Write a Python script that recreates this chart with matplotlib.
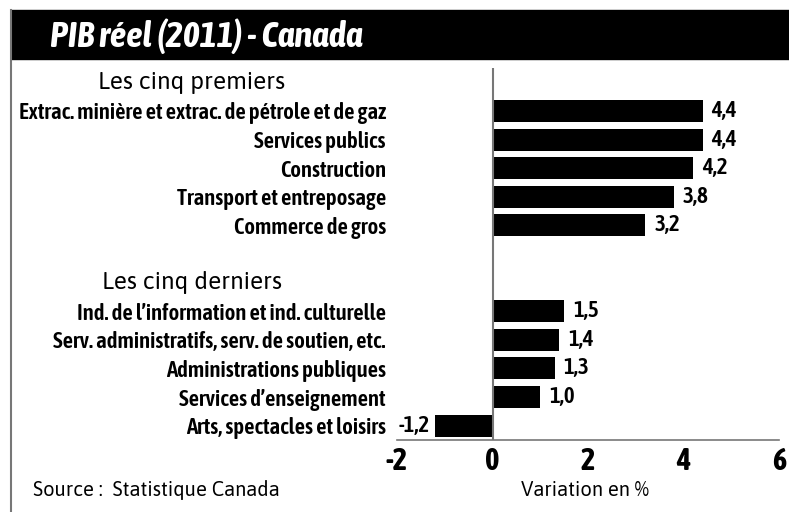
import matplotlib.pyplot as plt
from matplotlib.patches import Rectangle
from matplotlib.lines import Line2D
from matplotlib.transforms import blended_transform_factory

plt.rcParams['font.family'] = ['Asap Condensed', 'DejaVu Sans']
WIDE = ['Asap', 'DejaVu Sans']

title = "PIB réel (2011) - Canada"
headers = ["Les cinq premiers", "Les cinq derniers"]
top_labels = ["Extrac. minière et extrac. de pétrole et de gaz", "Services publics",
              "Construction", "Transport et entreposage", "Commerce de gros"]
top_values = [4.4, 4.4, 4.2, 3.8, 3.2]
bottom_labels = ["Ind. de l\u2019information et ind. culturelle",
                 "Serv. administratifs, serv. de soutien, etc.",
                 "Administrations publiques", "Services d\u2019enseignement",
                 "Arts, spectacles et loisirs"]
bottom_values = [1.5, 1.4, 1.3, 1.0, -1.2]
xticks = [-2, 0, 2, 4, 6]

# slot 0 = first header, 1-5 top bars, 6 blank, 7 = second header, 8-12 bottom bars
top_pos = [1, 2, 3, 4, 5]
bottom_pos = [8, 9, 10, 11, 12]
header_pos = [0, 7]

labels = top_labels + bottom_labels
values = top_values + bottom_values
pos = top_pos + bottom_pos

fig = plt.figure(figsize=(7.89, 5.12), dpi=100)
W, H = 789, 512

# title band + left frame line
fig.patches.append(Rectangle((11 / W, 1 - 59 / H), 1 - 11 / W, 49 / H,
                             transform=fig.transFigure, color='black', zorder=0))
fig.lines.append(Line2D([11 / W, 11 / W], [0, 1 - 10 / H], transform=fig.transFigure,
                        color='#777777', lw=1.5))
fig.text(50 / W, 1 - 36 / H, title, color='white', fontsize=26, fontweight='bold',
         fontstyle='italic', va='center', ha='left')

ax = fig.add_axes([397 / W, 1 - 440 / H, 382 / W, 372 / H])
ax.barh(pos, values, height=0.77, color='black', zorder=3)
ax.axvline(0, color='#777777', lw=1.5, zorder=4)
ax.set_xlim(-2, 6)
ax.set_ylim(12.5, -0.5)

ax.set_yticks(pos)
ax.set_yticklabels(labels, fontsize=16.4, fontweight=600)
ax.tick_params(axis='y', length=0, pad=8)
ax.set_xticks(xticks)
ax.set_xticklabels([str(t) for t in xticks], fontsize=22, fontweight='bold')
ax.tick_params(axis='x', length=0, pad=4)

for s in ['top', 'right', 'left']:
    ax.spines[s].set_visible(False)
ax.spines['bottom'].set_color('#777777')
ax.spines['bottom'].set_linewidth(1.2)

for p, v in zip(pos, values):
    txt = f"{v:.1f}".replace('.', ',')
    if v >= 0:
        ax.annotate(txt, (v, p), xytext=(9, 0), textcoords='offset pixels',
                    ha='left', va='center', fontsize=16.5, fontweight=600)
    else:
        ax.annotate(txt, (v, p), xytext=(-5, 0), textcoords='offset pixels',
                    ha='right', va='center', fontsize=16.5, fontweight=600)

head_tr = blended_transform_factory(fig.transFigure, ax.transData)
for h, p in zip(headers, header_pos):
    ax.text(192 / W, p, h, transform=head_tr, ha='center', va='center',
            fontsize=17.5, family=WIDE)

fig.text(33 / W, 1 - 490 / H, "Source :  Statistique Canada", fontsize=14.5,
         va='center', ha='left', family=WIDE)
fig.text(585 / W, 1 - 490 / H, "Variation en %", fontsize=14.5, va='center',
         ha='center', family=WIDE)

fig.savefig('out.png', dpi=100)
